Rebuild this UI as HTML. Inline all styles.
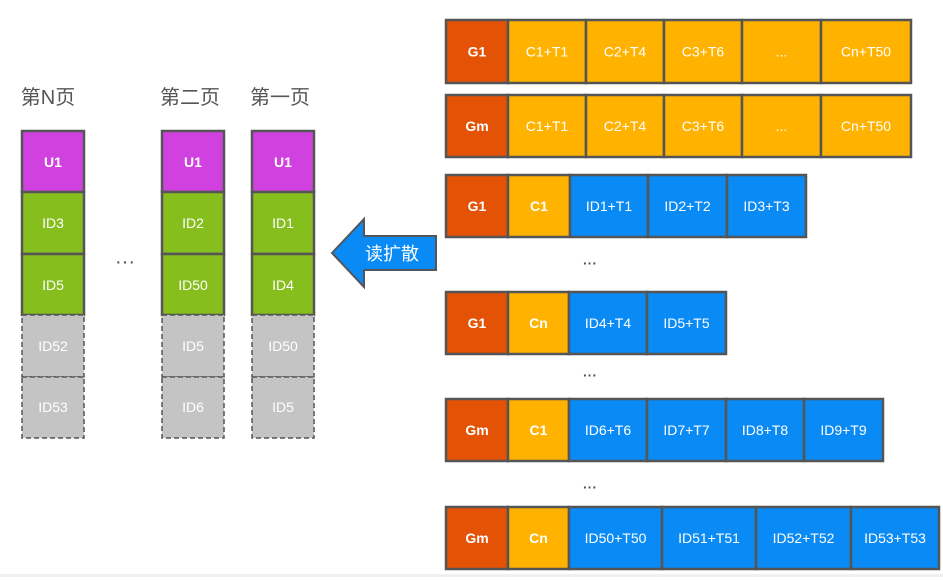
<!DOCTYPE html>
<html><head><meta charset="utf-8"><style>
html,body{margin:0;padding:0;background:#fff;}
body{width:943px;height:580px;position:relative;overflow:hidden;font-family:"Liberation Sans","Noto Sans CJK SC",sans-serif;}
</style></head><body>
<svg width="943" height="580" xmlns="http://www.w3.org/2000/svg" style="position:absolute;left:0;top:0" font-family="Liberation Sans, Noto Sans CJK SC, sans-serif">
<rect x="0" y="574" width="943" height="3" fill="#f0f0f0"/>
<g font-size="20" fill="#555" text-anchor="middle">
<text x="48" y="104">第N页</text>
<text x="190" y="104">第二页</text>
<text x="280" y="104">第一页</text>
</g>
<text x="125" y="268" font-size="20" fill="#555" text-anchor="middle">···</text>
<g stroke="#555" stroke-width="2.5">
<!-- columns -->
<g id="c1">
</g>
</g>
<g font-size="14" text-anchor="middle" fill="#fff">
<!-- col N -->
<rect x="22" y="131" width="62" height="61" fill="#D041E0" stroke="#555" stroke-width="2.5"/>
<rect x="22" y="192" width="62" height="62" fill="#86BE1E" stroke="#555" stroke-width="2.5"/>
<rect x="22" y="254" width="62" height="61" fill="#86BE1E" stroke="#555" stroke-width="2.5"/>
<rect x="22" y="315" width="62" height="62" fill="#C4C4C4" stroke="#555" stroke-width="1.5" stroke-dasharray="5,3"/>
<rect x="22" y="377" width="62" height="61" fill="#C4C4C4" stroke="#555" stroke-width="1.5" stroke-dasharray="5,3"/>
<text x="53" y="167" font-weight="bold">U1</text><text x="53" y="228">ID3</text><text x="53" y="290">ID5</text><text x="53" y="351">ID52</text><text x="53" y="412">ID53</text>
<!-- col 2 -->
<rect x="162" y="131" width="62" height="61" fill="#D041E0" stroke="#555" stroke-width="2.5"/>
<rect x="162" y="192" width="62" height="62" fill="#86BE1E" stroke="#555" stroke-width="2.5"/>
<rect x="162" y="254" width="62" height="61" fill="#86BE1E" stroke="#555" stroke-width="2.5"/>
<rect x="162" y="315" width="62" height="62" fill="#C4C4C4" stroke="#555" stroke-width="1.5" stroke-dasharray="5,3"/>
<rect x="162" y="377" width="62" height="61" fill="#C4C4C4" stroke="#555" stroke-width="1.5" stroke-dasharray="5,3"/>
<text x="193" y="167" font-weight="bold">U1</text><text x="193" y="228">ID2</text><text x="193" y="290">ID50</text><text x="193" y="351">ID5</text><text x="193" y="412">ID6</text>
<!-- col 1 -->
<rect x="252" y="131" width="62" height="61" fill="#D041E0" stroke="#555" stroke-width="2.5"/>
<rect x="252" y="192" width="62" height="62" fill="#86BE1E" stroke="#555" stroke-width="2.5"/>
<rect x="252" y="254" width="62" height="61" fill="#86BE1E" stroke="#555" stroke-width="2.5"/>
<rect x="252" y="315" width="62" height="62" fill="#C4C4C4" stroke="#555" stroke-width="1.5" stroke-dasharray="5,3"/>
<rect x="252" y="377" width="62" height="61" fill="#C4C4C4" stroke="#555" stroke-width="1.5" stroke-dasharray="5,3"/>
<text x="283" y="167" font-weight="bold">U1</text><text x="283" y="228">ID1</text><text x="283" y="290">ID4</text><text x="283" y="351">ID50</text><text x="283" y="412">ID5</text>
</g>
<!-- arrow -->
<polygon points="332,253 364,219 364,236 436,236 436,270 364,270 364,287" fill="#0A8AF5" stroke="#555" stroke-width="2"/>
<text x="392" y="260" font-size="18" fill="#fff" text-anchor="middle">读扩散</text>
<g font-size="14" fill="#555" text-anchor="middle">
<text x="590" y="268" font-weight="bold">···</text>
<text x="590" y="380" font-weight="bold">···</text>
<text x="590" y="492" font-weight="bold">···</text>
</g>
<g id="rows" font-size="14" fill="#fff" text-anchor="middle" stroke-width="2.5"></g>
</svg>
<script>
const O="#E35205",Y="#FFB300",B="#0A8AF5";
const rows=[
[20,83,[[446,508,O,"G1",1],[508,586,Y,"C1+T1"],[586,664,Y,"C2+T4"],[664,742,Y,"C3+T6"],[742,821,Y,"..."],[821,911,Y,"Cn+T50"]]],
[95,157,[[446,508,O,"Gm",1],[508,586,Y,"C1+T1"],[586,664,Y,"C2+T4"],[664,742,Y,"C3+T6"],[742,821,Y,"..."],[821,911,Y,"Cn+T50"]]],
[175,237,[[446,508,O,"G1",1],[508,570,Y,"C1",1],[570,648,B,"ID1+T1"],[648,727,B,"ID2+T2"],[727,806,B,"ID3+T3"]]],
[292,354,[[446,508,O,"G1",1],[508,569,Y,"Cn",1],[569,647,B,"ID4+T4"],[647,726,B,"ID5+T5"]]],
[399,461,[[446,508,O,"Gm",1],[508,569,Y,"C1",1],[569,647,B,"ID6+T6"],[647,726,B,"ID7+T7"],[726,804,B,"ID8+T8"],[804,883,B,"ID9+T9"]]],
[507,569,[[446,508,O,"Gm",1],[508,569,Y,"Cn",1],[569,662,B,"ID50+T50"],[662,756,B,"ID51+T51"],[756,851,B,"ID52+T52"],[851,939,B,"ID53+T53"]]]
];
const g=document.getElementById("rows");const ns="http://www.w3.org/2000/svg";
for(const [y0,y1,cells] of rows){for(const [x0,x1,c,t,b] of cells){
const r=document.createElementNS(ns,"rect");r.setAttribute("x",x0);r.setAttribute("y",y0);r.setAttribute("width",x1-x0);r.setAttribute("height",y1-y0);r.setAttribute("fill",c);r.setAttribute("stroke","#555");g.appendChild(r);
const tx=document.createElementNS(ns,"text");tx.setAttribute("x",(x0+x1)/2);tx.setAttribute("y",(y0+y1)/2+5);tx.setAttribute("stroke","none");if(b)tx.setAttribute("font-weight","bold");tx.textContent=t;g.appendChild(tx);}}
</script>
</body></html>
